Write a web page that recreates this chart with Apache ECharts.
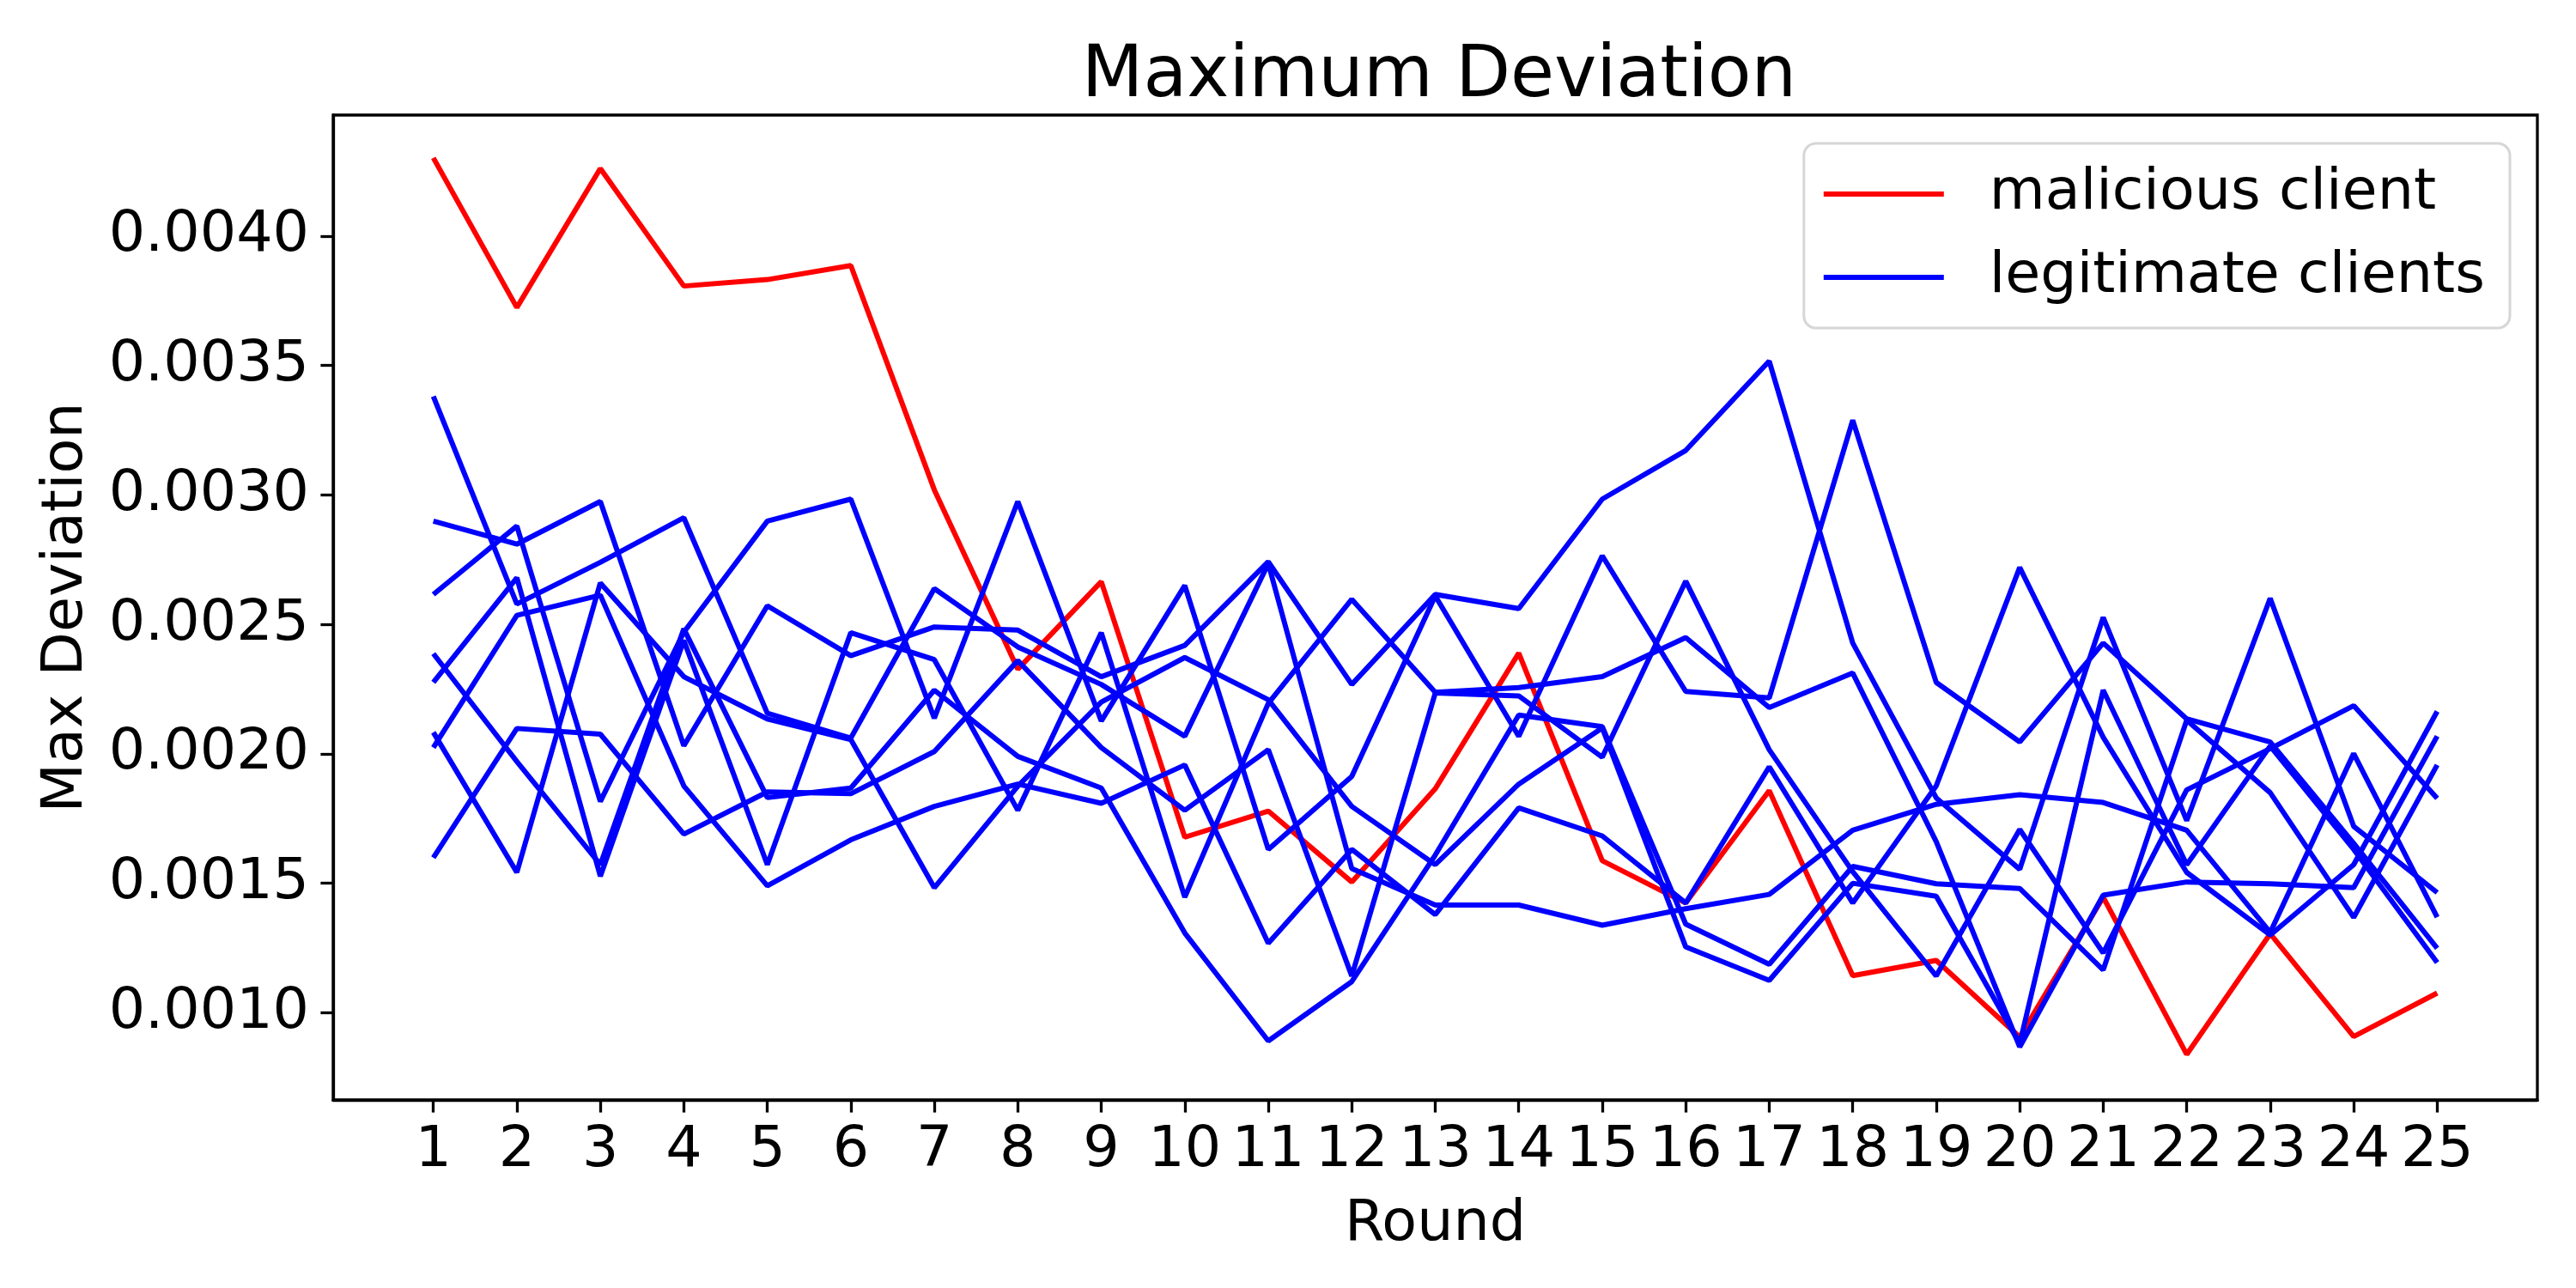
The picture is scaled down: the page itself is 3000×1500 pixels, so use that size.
<!DOCTYPE html>
<html>
<head>
<meta charset="utf-8">
<script src="https://cdn.jsdelivr.net/npm/echarts@6/dist/echarts.min.js"></script>
<style>
html,body{margin:0;padding:0;background:#fff;}
#chart{width:3000px;height:1500px;}
</style>
</head>
<body>
<div id="chart"></div>
<script>
const rounds = [1,2,3,4,5,6,7,8,9,10,11,12,13,14,15,16,17,18,19,20,21,22,23,24,25];
const yTicks = [0.0010,0.0015,0.0020,0.0025,0.0030,0.0035,0.0040];

const malicious = [0.004302,0.003724,0.004261,0.003807,0.003832,0.003886,0.003020,0.002327,0.002665,0.001678,0.001779,0.001505,0.001865,0.002389,0.001587,0.001424,0.001858,0.001143,0.001202,0.000906,0.001446,0.000839,0.001305,0.000908,0.001076];

const client1 = [0.003381,0.002579,0.002740,0.002912,0.002157,0.002061,0.002638,0.002413,0.002268,0.002068,0.002735,0.001557,0.001416,0.001416,0.001338,0.001402,0.001457,0.001705,0.001805,0.001842,0.001812,0.001705,0.001310,0.002001,0.001369];
const client2 = [0.002899,0.002810,0.002975,0.002031,0.002572,0.002379,0.002490,0.002478,0.002298,0.002419,0.002742,0.002268,0.002616,0.002561,0.002984,0.003172,0.003517,0.002428,0.001830,0.001554,0.002527,0.001742,0.002601,0.001720,0.001464];
const client3 = [0.002616,0.002880,0.001816,0.002470,0.002899,0.002984,0.002138,0.002975,0.002127,0.002650,0.001631,0.001913,0.002610,0.002068,0.002765,0.002241,0.002216,0.003289,0.002276,0.002046,0.002428,0.002135,0.002046,0.001654,0.001249];
const client4 = [0.002276,0.002680,0.001527,0.002438,0.001572,0.002468,0.002364,0.001782,0.002468,0.001446,0.002195,0.002597,0.002238,0.002256,0.002298,0.002449,0.002179,0.002312,0.001661,0.000868,0.001454,0.001505,0.001498,0.001483,0.002068];
const client5 = [0.002387,0.001970,0.001572,0.002483,0.001831,0.001868,0.002246,0.001990,0.001868,0.001308,0.000891,0.001120,0.001609,0.002150,0.002105,0.001342,0.001187,0.001565,0.001498,0.001480,0.001165,0.002130,0.001850,0.001368,0.001957];
const client6 = [0.002083,0.001542,0.002660,0.002298,0.002135,0.002055,0.001483,0.001875,0.002200,0.002372,0.002209,0.001797,0.001572,0.001883,0.002100,0.001254,0.001125,0.001500,0.001450,0.000880,0.002246,0.001572,0.002030,0.001631,0.001194];
const client7 = [0.002024,0.002535,0.002613,0.001876,0.001490,0.001668,0.001797,0.001883,0.001809,0.001957,0.001268,0.001631,0.001379,0.001791,0.001683,0.001424,0.001950,0.001424,0.001876,0.002720,0.002064,0.001542,0.001300,0.001572,0.002164];
const client8 = [0.001599,0.002098,0.002076,0.001690,0.001853,0.001846,0.002009,0.002360,0.002024,0.001782,0.002016,0.001142,0.002235,0.002224,0.001987,0.002667,0.002016,0.001545,0.001142,0.001708,0.001231,0.001861,0.002020,0.002186,0.001828];

const legitimate = [client1,client2,client3,client4,client5,client6,client7,client8];

const FONT = 'DejaVu Sans';
const pair = arr => arr.map((v,i)=>[rounds[i], v]);

const series = [{
  name: 'malicious client', type: 'line', data: pair(malicious),
  showSymbol: false, symbol: 'none', color: '#ff0000',
  lineStyle: {width: 6, color: '#ff0000'}, z: 2
}];
legitimate.forEach(c => series.push({
  name: 'legitimate clients', type: 'line', data: pair(c),
  showSymbol: false, symbol: 'none', color: '#0000ff',
  lineStyle: {width: 6, color: '#0000ff'}, z: 2
}));

const chart = echarts.init(document.getElementById('chart'), null, {renderer: 'canvas'});
chart.setOption({
  animation: false,
  backgroundColor: '#ffffff',
  title: {
    text: 'Maximum Deviation', left: 1671, top: 44, textAlign: 'center',
    textStyle: {fontFamily: FONT, fontSize: 83, fontWeight: 'normal', color: '#000'}
  },
  grid: {left: 388, right: 45, top: 134, bottom: 219, show: true, borderColor: '#000', borderWidth: 3.3, containLabel: false},
  legend: {
    orient: 'vertical', right: 77, top: 167,
    data: ['malicious client', 'legitimate clients'],
    icon: 'rect', itemWidth: 140, itemHeight: 6, itemGap: 19,
    padding: [20, 29, 20, 23],
    borderColor: '#d6d6d6', borderWidth: 3, borderRadius: 14, backgroundColor: '#ffffff',
    textStyle: {fontFamily: FONT, fontSize: 66.7, color: '#000', lineHeight: 78, padding: [0,0,0,48]},
    selectedMode: false
  },
  xAxis: {
    type: 'value', min: -0.2, max: 26.2,
    name: 'Round', nameLocation: 'middle', nameGap: 112,
    nameTextStyle: {fontFamily: FONT, fontSize: 66.7, color: '#000'},
    axisLine: {show: true, onZero: false, lineStyle: {color: '#000', width: 3.3}},
    axisTick: {show: true, customValues: rounds, length: 14.6, lineStyle: {color: '#000', width: 3.3}},
    axisLabel: {customValues: rounds, margin: 26, fontFamily: FONT, fontSize: 66.7, color: '#000'},
    splitLine: {show: false}
  },
  yAxis: {
    type: 'value', min: 0.000663, max: 0.0044675,
    name: 'Max Deviation', nameLocation: 'middle', nameGap: 277, nameRotate: 90,
    nameTextStyle: {fontFamily: FONT, fontSize: 66.7, color: '#000'},
    axisLine: {show: true, onZero: false, lineStyle: {color: '#000', width: 3.3}},
    axisTick: {show: true, customValues: yTicks, length: 14.6, lineStyle: {color: '#000', width: 3.3}},
    axisLabel: {customValues: yTicks, margin: 28, fontFamily: FONT, fontSize: 66.7, color: '#000',
      formatter: v => v.toFixed(4)},
    splitLine: {show: false}
  },
  series: series
});
</script>
</body>
</html>
